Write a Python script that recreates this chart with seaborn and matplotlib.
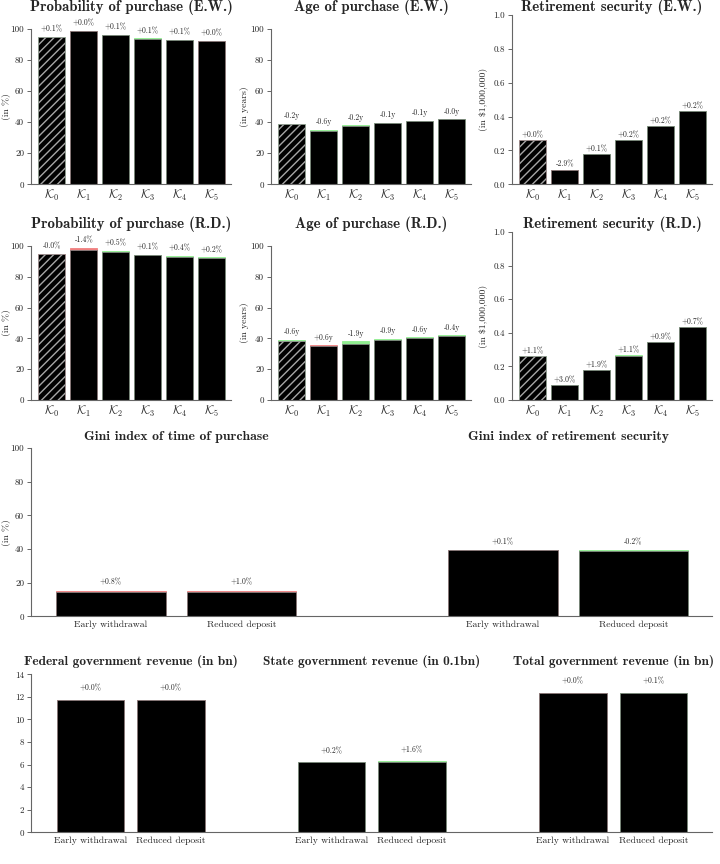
import numpy as np
import pandas as pd
import matplotlib
matplotlib.use('Agg')
import matplotlib.pyplot as plt
import matplotlib.transforms as mtransforms
import seaborn as sns

sns.set_theme(style='ticks')
plt.rcParams['font.family'] = 'serif'
plt.rcParams['font.serif'] = ['cmr10']
plt.rcParams['mathtext.fontset'] = 'cm'
plt.rcParams['axes.unicode_minus'] = False
plt.rcParams['axes.formatter.use_mathtext'] = False

GREEN = '#90ee90'
RED = '#f08080'
AXC = '0.4'

# ---- data -------------------------------------------------------------
k_keys = ['K0', 'K1', 'K2', 'K3', 'K4', 'K5']
k_labels = [r'$\mathcal{K}_0$', r'$\mathcal{K}_1$', r'$\mathcal{K}_2$',
            r'$\mathcal{K}_3$', r'$\mathcal{K}_4$', r'$\mathcal{K}_5$']

# probability of purchase (in %), change in percentage points
prob_base = [95.0, 98.6, 96.3, 93.8, 92.9, 92.3]
prob_ew = [0.1, 0.0, 0.1, 0.1, 0.1, 0.0]
prob_rd = [-0.04, -1.4, 0.5, 0.1, 0.4, 0.2]

# age of purchase (in years), change in years
age_base = [39.0, 35.0, 38.0, 39.7, 40.8, 42.0]
age_ew = [-0.2, -0.6, -0.2, -0.1, -0.1, -0.04]
age_rd = [-0.6, 0.6, -1.9, -0.9, -0.6, -0.4]

# retirement security (in $1,000,000), relative change in %
ret_base = [0.26, 0.087, 0.177, 0.262, 0.343, 0.433]
ret_ew = [0.0, -2.9, 0.1, 0.2, 0.2, 0.2]
ret_rd = [1.1, 3.0, 1.9, 1.1, 0.9, 0.7]

strategies = ['Early withdrawal', 'Reduced deposit']

# gini indices (in %), change in percentage points
gini_time_base = [14.3, 14.3]
gini_time_chg = [0.8, 1.0]
gini_ret_base = [39.2, 39.2]
gini_ret_chg = [0.1, -0.2]

# government revenue, relative change in %
fed_base = [11.75, 11.75]
fed_chg = [0.0, 0.0]
state_base = [6.22, 6.22]
state_chg = [0.2, 1.6]
total_base = [12.37, 12.37]
total_chg = [0.0, 0.1]

# ---- helpers ----------------------------------------------------------
fig = plt.figure(figsize=(7.2, 8.64), dpi=100)
W, H = 720, 864


def add_ax(x0, x1, y0, y1):
    return fig.add_axes([x0 / W, 1 - y1 / H, (x1 - x0) / W, (y1 - y0) / H])


def new_values(base, chg, mode):
    base = np.asarray(base, float)
    chg = np.asarray(chg, float)
    if mode == 'rel':
        return base * (1 + chg / 100)
    return base + chg


def draw_bars(ax, order, keys, base, new, good_up, texts, off, hatch_key=None):
    base = np.asarray(base, float)
    new = np.asarray(new, float)
    df = pd.DataFrame({'key': keys, 'lo': np.minimum(base, new),
                       'hi': np.maximum(base, new)})
    cols = {k: (GREEN if ((n > b) == g) else RED)
            for k, b, n, g in zip(keys, base, new, good_up)}
    sns.barplot(data=df, x='key', y='hi', hue='key', palette=cols, order=order,
                hue_order=keys, width=0.84, saturation=1, legend=False,
                linewidth=0.6, ax=ax)
    for p in ax.patches:
        p.set_edgecolor(p.get_facecolor())
    n0 = len(ax.patches)
    sns.barplot(data=df, x='key', y='lo', order=order, color='black', width=0.84,
                saturation=1, edgecolor='0.55', linewidth=0.5, ax=ax)
    if hatch_key is not None:
        pos = order.index(hatch_key)
        for p in ax.patches[n0:]:
            if abs(p.get_x() + p.get_width() / 2 - pos) < 0.1:
                p.set_hatch('////')
                p.set_edgecolor('0.65')
    for k, h, t in zip(keys, df['hi'], texts):
        ax.text(order.index(k), h + off, t, ha='center', va='center',
                fontsize=5.5, color='0.15')


def style(ax, yticks, ylim, xlim, fmt, ylabel, xlabels, xfs, ylab_x):
    sns.despine(ax=ax)
    ax.set_ylim(*ylim)
    ax.set_xlim(*xlim)
    ax.set_yticks(yticks, [fmt.format(v) for v in yticks], fontsize=6.5)
    ax.spines['left'].set_bounds(yticks[0], yticks[-1])
    for s in ('left', 'bottom'):
        ax.spines[s].set_color(AXC)
        ax.spines[s].set_linewidth(0.8)
    ax.tick_params(axis='y', length=3, width=0.7, color=AXC, pad=2)
    ax.tick_params(axis='x', length=0, pad=3)
    ax.set_xticks(range(len(xlabels)), xlabels, fontsize=xfs)
    ax.set_xlabel('')
    ax.set_ylabel(ylabel, fontsize=7)
    ax.yaxis.set_label_coords(ylab_x, 0.5 * yticks[-1] / ylim[1])
    ax.grid(False)


def fmt_chg(chg, unit):
    return [f'{c:+.1f}{unit}' for c in chg]


# ---- rows 1 and 2 -----------------------------------------------------
cols_x = [(31, 231), (271, 471), (512, 712)]
rows_y = [(15, 184.3), (232, 400)]
ylab_xs = [-0.10, -0.11, -0.12]

row_specs = [
    ('E.W.', prob_ew, age_ew, ret_ew),
    ('R.D.', prob_rd, age_rd, ret_rd),
]

for r, (tag, pchg, achg, rchg) in enumerate(row_specs):
    y0, y1 = rows_y[r]
    panels = [
        (f'Probability of purchase ({tag})', prob_base, pchg, 'abs', True, '%',
         '(in %)', [0, 20, 40, 60, 80, 100], (0, 109), '{:d}', 5.0),
        (f'Age of purchase ({tag})', age_base, achg, 'abs', False, 'y',
         '(in years)', [0, 20, 40, 60, 80, 100], (0, 109), '{:d}', 5.0),
        (f'Retirement security ({tag})', ret_base, rchg, 'rel', True, '%',
         r'(in \$1,000,000)', [0.0, 0.2, 0.4, 0.6, 0.8, 1.0], (0, 1.0),
         '{:.1f}', 0.03),
    ]
    for c, (title, base, chg, mode, gup, unit, ylab, yt, yl, fm, off) in enumerate(panels):
        ax = add_ax(cols_x[c][0], cols_x[c][1], y0, y1)
        new = new_values(base, chg, mode)
        draw_bars(ax, k_keys, k_keys, base, new, [gup] * 6, fmt_chg(chg, unit),
                  off, hatch_key='K0')
        style(ax, yt, yl, (-0.65, 5.6), fm, ylab, k_labels, 8.5, ylab_xs[c])
        ax.set_title(title, fontsize=10.7, fontfamily='cmb10', pad=1)

# ---- row 3: gini ------------------------------------------------------
ax = add_ax(31, 712, 448, 616.3)
g_keys = ['time_ew', 'time_rd', 'ret_ew', 'ret_rd']
g_order = ['time_ew', 'time_rd', 'gap', 'ret_ew', 'ret_rd']
g_base = gini_time_base + gini_ret_base
g_chg = gini_time_chg + gini_ret_chg
draw_bars(ax, g_order, g_keys, g_base, new_values(g_base, g_chg, 'abs'),
          [False] * 4, fmt_chg(g_chg, '%'), 5.0)
g_xlabels = [strategies[0], strategies[1], '', strategies[0], strategies[1]]
style(ax, [0, 20, 40, 60, 80, 100], (0, 100), (-0.61, 4.6), '{:d}', '(in %)',
      g_xlabels, 7, -0.029)
trans = mtransforms.blended_transform_factory(ax.transData, ax.transAxes)
for title, ks in [('Gini index of time of purchase', g_keys[:2]),
                  ('Gini index of retirement security', g_keys[2:])]:
    cx = np.mean([g_order.index(k) for k in ks])
    ax.text(cx, 1.03, title, transform=trans, ha='center', va='bottom',
            fontsize=9.9, fontfamily='cmb10')

# ---- row 4: government revenue ----------------------------------------
ax = add_ax(31, 712, 674.3, 832.3)
r_keys = ['fed_ew', 'fed_rd', 'st_ew', 'st_rd', 'tot_ew', 'tot_rd']
r_order = ['fed_ew', 'fed_rd', 'gap1', 'st_ew', 'st_rd', 'gap2', 'tot_ew', 'tot_rd']
r_base = fed_base + state_base + total_base
r_chg = fed_chg + state_chg + total_chg
draw_bars(ax, r_order, r_keys, r_base, new_values(r_base, r_chg, 'rel'),
          [True] * 6, fmt_chg(r_chg, '%'), 1.0)
r_xlabels = [strategies[0], strategies[1], '', strategies[0], strategies[1], '',
             strategies[0], strategies[1]]
style(ax, [0, 2, 4, 6, 8, 10, 12, 14], (0, 14), (-0.74, 7.73), '{:d}', '',
      r_xlabels, 7, -0.036)
trans = mtransforms.blended_transform_factory(ax.transData, ax.transAxes)
for title, ks in [('Federal government revenue (in bn)', r_keys[:2]),
                  ('State government revenue (in 0.1bn)', r_keys[2:4]),
                  ('Total government revenue (in bn)', r_keys[4:])]:
    cx = np.mean([r_order.index(k) for k in ks])
    ax.text(cx, 1.04, title, transform=trans, ha='center', va='bottom',
            fontsize=9.6, fontfamily='cmb10')

fig.savefig('out.png', dpi=100, facecolor='white')
